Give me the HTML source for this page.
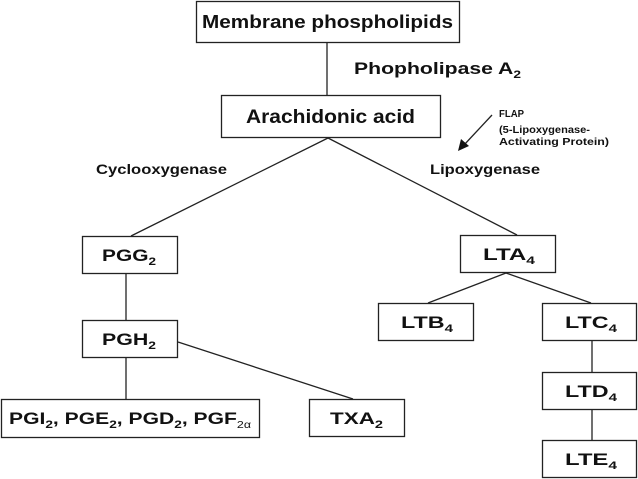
<!DOCTYPE html>
<html><head><meta charset="utf-8"><style>
html,body{margin:0;padding:0;background:#fff;}
svg{display:block;}
text{font-family:"Liberation Sans",Arial,sans-serif;font-weight:bold;fill:#111;}
</style></head><body>
<svg width="638" height="479" viewBox="0 0 638 479" xmlns="http://www.w3.org/2000/svg">
<g stroke="#222" stroke-width="1.3" fill="none">
<rect x="196.5" y="1.5" width="263" height="41"/>
<rect x="221.5" y="95.5" width="219" height="42"/>
<rect x="82.5" y="236.5" width="95" height="37"/>
<rect x="460.5" y="235.5" width="95" height="37"/>
<rect x="378.5" y="303.5" width="95" height="37"/>
<rect x="542.5" y="303.5" width="94" height="37"/>
<rect x="82.5" y="320.5" width="95" height="37"/>
<rect x="542.5" y="372.5" width="94" height="37"/>
<rect x="1.5" y="399.5" width="258" height="38"/>
<rect x="309.5" y="399.5" width="95" height="37"/>
<rect x="542.5" y="440.5" width="94" height="37"/>
<line x1="327" y1="43" x2="327" y2="95"/>
<line x1="328" y1="138" x2="131" y2="236"/>
<line x1="328" y1="138" x2="517" y2="235"/>
<line x1="126" y1="274" x2="126" y2="320"/>
<line x1="126" y1="358" x2="126" y2="399"/>
<line x1="178" y1="342" x2="353" y2="399"/>
<line x1="506" y1="273" x2="428" y2="303"/>
<line x1="506" y1="273" x2="591" y2="303"/>
<line x1="592" y1="341" x2="592" y2="372"/>
<line x1="592" y1="410" x2="592" y2="440"/>
<line x1="492" y1="115" x2="464" y2="145"/>
</g>
<polygon points="458,151 461,139 469,146" fill="#111"/>
<text x="202" y="28" font-size="18" textLength="251" lengthAdjust="spacingAndGlyphs">Membrane phospholipids</text>
<text x="354" y="74" font-size="17" textLength="167" lengthAdjust="spacingAndGlyphs">Phopholipase A<tspan font-size="11" dy="4">2</tspan></text>
<text x="246" y="123" font-size="19" textLength="169" lengthAdjust="spacingAndGlyphs">Arachidonic acid</text>
<text x="499" y="117" font-size="10" textLength="25" lengthAdjust="spacingAndGlyphs">FLAP</text>
<text x="499" y="133" font-size="10" textLength="91" lengthAdjust="spacingAndGlyphs">(5-Lipoxygenase-</text>
<text x="499" y="145" font-size="10" textLength="110" lengthAdjust="spacingAndGlyphs">Activating Protein)</text>
<text x="96" y="174" font-size="14" textLength="131" lengthAdjust="spacingAndGlyphs">Cyclooxygenase</text>
<text x="430" y="174" font-size="14" textLength="110" lengthAdjust="spacingAndGlyphs">Lipoxygenase</text>
<text x="102" y="261" font-size="17" textLength="54" lengthAdjust="spacingAndGlyphs">PGG<tspan font-size="11" dy="4">2</tspan></text>
<text x="483" y="260" font-size="17" textLength="52" lengthAdjust="spacingAndGlyphs">LTA<tspan font-size="11" dy="4">4</tspan></text>
<text x="401" y="328" font-size="17" textLength="52" lengthAdjust="spacingAndGlyphs">LTB<tspan font-size="11" dy="4">4</tspan></text>
<text x="565" y="328" font-size="17" textLength="52" lengthAdjust="spacingAndGlyphs">LTC<tspan font-size="11" dy="4">4</tspan></text>
<text x="102" y="345" font-size="17" textLength="54" lengthAdjust="spacingAndGlyphs">PGH<tspan font-size="11" dy="4">2</tspan></text>
<text x="565" y="397" font-size="17" textLength="52" lengthAdjust="spacingAndGlyphs">LTD<tspan font-size="11" dy="4">4</tspan></text>
<text x="9" y="424" font-size="17" textLength="242" lengthAdjust="spacingAndGlyphs">PGI<tspan font-size="11" dy="4">2</tspan><tspan dy="-4">, PGE</tspan><tspan font-size="11" dy="4">2</tspan><tspan dy="-4">, PGD</tspan><tspan font-size="11" dy="4">2</tspan><tspan dy="-4">, PGF</tspan><tspan font-size="10" font-weight="normal" dy="4">2α</tspan></text>
<text x="330" y="424" font-size="17" textLength="53" lengthAdjust="spacingAndGlyphs">TXA<tspan font-size="11" dy="4">2</tspan></text>
<text x="565" y="465" font-size="17" textLength="52" lengthAdjust="spacingAndGlyphs">LTE<tspan font-size="11" dy="4">4</tspan></text>
</svg>
</body></html>
